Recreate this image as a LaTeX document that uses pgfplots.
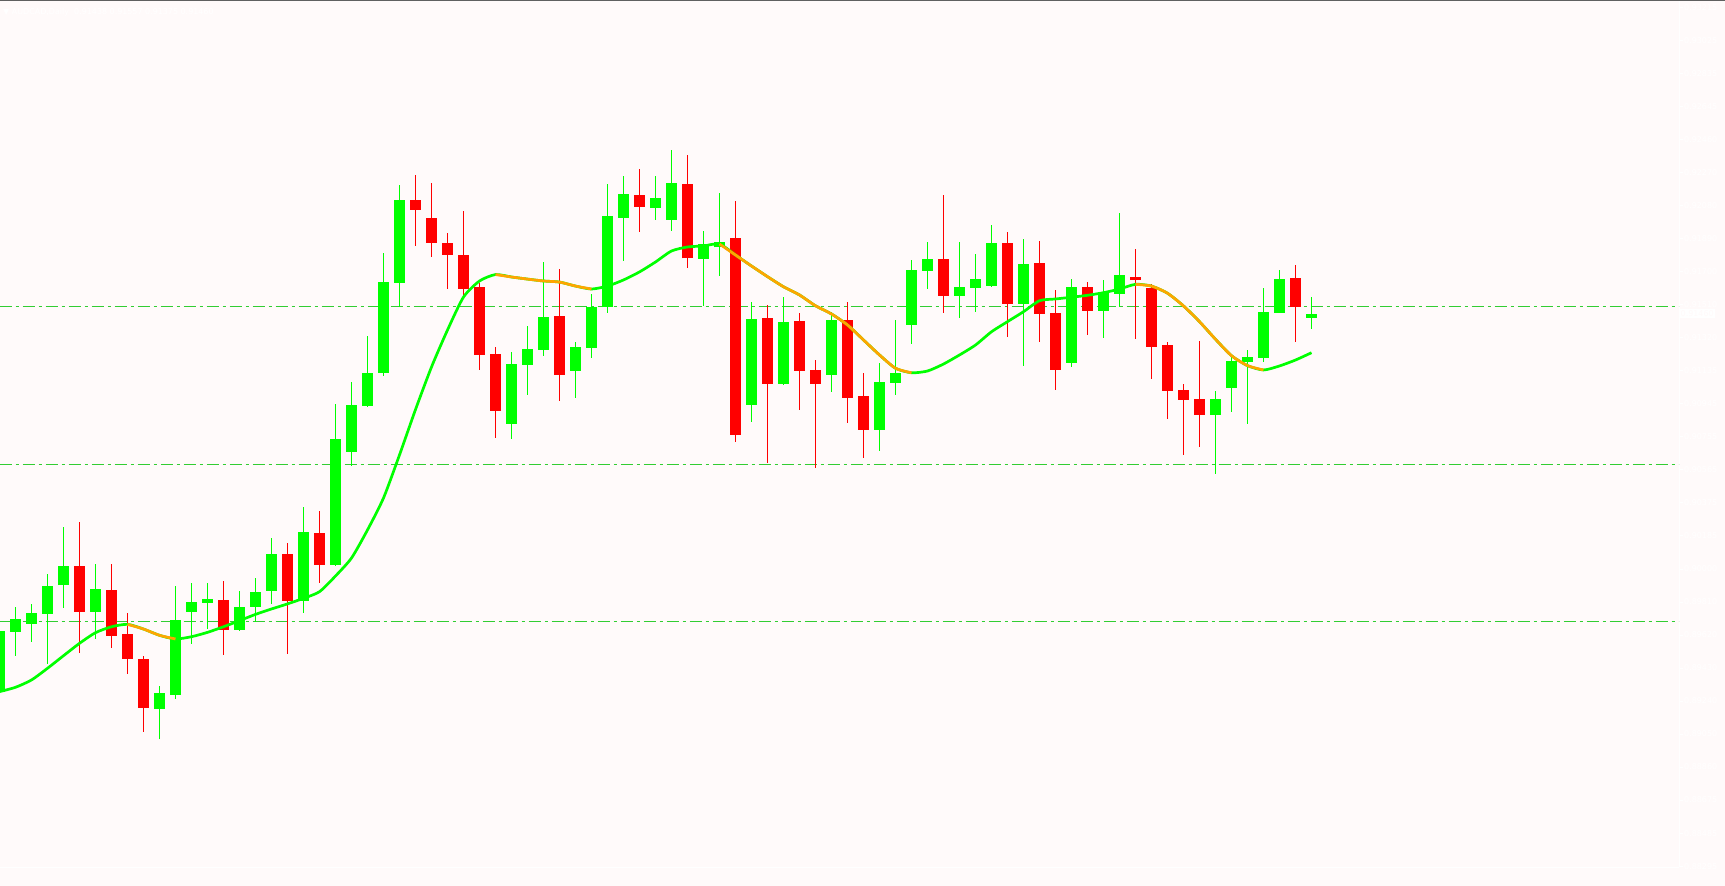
\documentclass[border=0pt]{standalone}
\usepackage{fontspec}
\setmainfont{DejaVu Sans}
\usepackage{pgfplots}
\usepackage{pgfplotstable}
\pgfplotsset{compat=1.18}
\definecolor{bg}{RGB}{255,250,250}
\definecolor{bull}{RGB}{0,255,0}
\definecolor{bear}{RGB}{255,0,0}
\definecolor{maup}{RGB}{0,255,0}
\definecolor{madn}{RGB}{255,165,0}
\definecolor{lvl}{RGB}{50,205,50}
\definecolor{topline}{RGB}{96,96,96}

% bullish candles: index, open, high, low, close
\pgfplotstableread{
k o h l c
0 0.89293 0.89660 0.89282 0.89643
1 0.89639 0.89780 0.89501 0.89712
2 0.89685 0.89798 0.89580 0.89746
3 0.89742 0.89970 0.89455 0.89901
4 0.89906 0.90241 0.89776 0.90015
6 0.89753 0.90027 0.89599 0.89883
10 0.89197 0.89327 0.89022 0.89287
11 0.89278 0.89901 0.89255 0.89706
12 0.89753 0.89918 0.89570 0.89809
13 0.89805 0.89918 0.89654 0.89826
15 0.89650 0.89872 0.89644 0.89780
16 0.89782 0.89947 0.89696 0.89866
17 0.89874 0.90176 0.89799 0.90084
19 0.89816 0.90354 0.89748 0.90210
21 0.90023 0.90944 0.90015 0.90743
22 0.90671 0.91068 0.90590 0.90938
23 0.90934 0.91334 0.90927 0.91122
24 0.91123 0.91810 0.91106 0.91643
25 0.91639 0.92199 0.91498 0.92113
32 0.90831 0.91242 0.90745 0.91173
33 0.91169 0.91391 0.90997 0.91259
34 0.91255 0.91758 0.91221 0.91443
36 0.91135 0.91299 0.90980 0.91271
37 0.91267 0.91575 0.91209 0.91500
38 0.91498 0.92205 0.91467 0.92022
39 0.92012 0.92251 0.91765 0.92148
41 0.92069 0.92251 0.92000 0.92125
42 0.92000 0.92400 0.91937 0.92211
44 0.91777 0.91937 0.91507 0.91861
45 0.91842 0.92153 0.91679 0.91871
47 0.90940 0.91529 0.90843 0.91431
49 0.91060 0.91557 0.91055 0.91414
52 0.91112 0.91471 0.91014 0.91425
55 0.90797 0.91181 0.90676 0.91072
56 0.91066 0.91425 0.90997 0.91123
57 0.91399 0.91771 0.91290 0.91714
58 0.91708 0.91874 0.91605 0.91777
60 0.91565 0.91874 0.91439 0.91616
61 0.91611 0.91806 0.91473 0.91662
62 0.91622 0.91972 0.91615 0.91869
64 0.91519 0.91890 0.91164 0.91746
67 0.91181 0.91660 0.91158 0.91615
69 0.91479 0.91655 0.91324 0.91588
70 0.91576 0.92039 0.91502 0.91683
76 0.90883 0.91020 0.90544 0.90974
77 0.91037 0.91215 0.90900 0.91192
78 0.91186 0.91255 0.90831 0.91215
79 0.91209 0.91611 0.91186 0.91471
80 0.91467 0.91714 0.91466 0.91660
82 0.91438 0.91557 0.91375 0.91460
}\bulltab

% bearish candles: index, open, high, low, close
\pgfplotstableread{
k o h l c
5 0.90015 0.90268 0.89518 0.89753
7 0.89878 0.90027 0.89547 0.89616
8 0.89626 0.89746 0.89398 0.89484
9 0.89482 0.89499 0.89066 0.89203
14 0.89820 0.89929 0.89507 0.89650
18 0.90084 0.90147 0.89513 0.89816
20 0.90205 0.90331 0.89920 0.90023
26 0.92113 0.92257 0.91851 0.92058
27 0.92010 0.92211 0.91788 0.91869
28 0.91867 0.91924 0.91605 0.91800
29 0.91798 0.92050 0.91559 0.91605
30 0.91615 0.91639 0.91141 0.91227
31 0.91231 0.91271 0.90751 0.90906
35 0.91450 0.91718 0.90963 0.91112
40 0.92142 0.92291 0.91932 0.92075
43 0.92205 0.92371 0.91725 0.91778
46 0.91896 0.92108 0.90728 0.90768
48 0.91437 0.91511 0.90607 0.91060
50 0.91420 0.91466 0.90911 0.91135
51 0.91141 0.91196 0.90579 0.91060
53 0.91425 0.91529 0.90837 0.90980
54 0.90992 0.91123 0.90636 0.90797
59 0.91777 0.92144 0.91467 0.91565
63 0.91869 0.91932 0.91330 0.91519
65 0.91752 0.91878 0.91301 0.91462
66 0.91466 0.91597 0.91026 0.91141
68 0.91615 0.91643 0.91341 0.91479
71 0.91672 0.91832 0.91318 0.91656
72 0.91611 0.91632 0.91089 0.91272
73 0.91284 0.91301 0.90860 0.91020
74 0.91026 0.91060 0.90653 0.90969
75 0.90974 0.91307 0.90699 0.90883
81 0.91666 0.91743 0.91301 0.91502
}\beartab

% moving average
\pgfplotstableread{
k m
0 0.89295
1 0.89320
2 0.89362
3 0.89429
4 0.89501
5 0.89572
6 0.89633
7 0.89667
8 0.89681
9 0.89654
10 0.89618
11 0.89597
12 0.89610
13 0.89635
14 0.89667
15 0.89702
16 0.89738
17 0.89769
18 0.89798
19 0.89830
20 0.89868
21 0.89958
22 0.90061
23 0.90222
24 0.90405
25 0.90652
26 0.90912
27 0.91156
28 0.91368
29 0.91557
30 0.91649
31 0.91686
32 0.91672
33 0.91660
34 0.91649
35 0.91643
36 0.91620
37 0.91603
38 0.91620
39 0.91655
40 0.91701
41 0.91758
42 0.91821
43 0.91844
44 0.91850
45 0.91861
46 0.91798
47 0.91735
48 0.91674
49 0.91616
50 0.91569
51 0.91507
52 0.91460
53 0.91397
54 0.91311
55 0.91225
56 0.91149
57 0.91123
58 0.91133
59 0.91173
60 0.91225
61 0.91282
62 0.91358
63 0.91416
64 0.91473
65 0.91536
66 0.91546
67 0.91556
68 0.91567
69 0.91582
70 0.91603
71 0.91630
72 0.91620
73 0.91579
74 0.91506
75 0.91416
76 0.91315
77 0.91221
78 0.91164
79 0.91139
80 0.91162
81 0.91196
82 0.91238
}\matab

\begin{document}
\begin{tikzpicture}
\useasboundingbox (0,0) rectangle (1725bp,886bp);
\fill[bg] (0,0) rectangle (1725bp,886bp);
\begin{axis}[
  at={(0,19bp)}, anchor=south west,
  scale only axis, width=1679bp, height=866bp,
  xmin=0.03125, xmax=104.96875,
  ymin=0.8828991, ymax=0.9325408,
  clip mode=individual,
  axis x line*=bottom, axis y line*=right,
  axis line style={white, line width=1bp, -},
  xtick=\empty,
  ytick={0.93215,0.930258,0.928365,0.926473,0.924581,0.922688,0.920796,0.918904,0.917012,0.915119,0.913227,0.911335,0.909442,0.90755,0.905658,0.903765,0.901873,0.899981,0.898088,0.896196,0.894304,0.892412,0.890519,0.888627,0.886735,0.884842,0.88295},
  yticklabels={0.93215,0.93025,0.92835,0.92645,0.92460,0.92270,0.92080,0.91890,0.91700,0.91510,0.91320,0.91135,0.90945,0.90755,0.90565,0.90375,0.90185,0.90000,0.89810,0.89620,0.89430,0.89240,0.89050,0.88860,0.88675,0.88485,0.88295},
  tick align=outside, major tick length=4bp,
  tick style={white, line width=1bp},
  yticklabel style={font=\fontsize{8}{9}\selectfont, text=white, anchor=west, inner sep=1bp},
  candle/.style={draw=none, no markers, forget plot,
    error bars/.cd, y dir=plus, y explicit, error mark=none},
]
% level lines
\addplot[lvl, line width=1bp, dash pattern=on 12bp off 4bp on 3bp off 4bp, no markers, forget plot] coordinates {(0,0.915) (105,0.915)};
\addplot[lvl, line width=1bp, dash pattern=on 12bp off 4bp on 3bp off 4bp, no markers, forget plot] coordinates {(0,0.906) (105,0.906)};
\addplot[lvl, line width=1bp, dash pattern=on 12bp off 4bp on 3bp off 4bp, no markers, forget plot] coordinates {(0,0.897) (105,0.897)};
% wicks
\addplot[candle, error bar style={draw=bull, line width=1bp, solid}]
  table[x=k, y=l, y error plus expr=\thisrow{h}-\thisrow{l}] {\bulltab};
\addplot[candle, error bar style={draw=bear, line width=1bp, solid}]
  table[x=k, y=l, y error plus expr=\thisrow{h}-\thisrow{l}] {\beartab};
% bodies
\addplot[candle, error bar style={draw=bull, line width=11bp, solid, line cap=butt}]
  table[x=k, y=o, y error plus expr=\thisrow{c}-\thisrow{o}] {\bulltab};
\addplot[candle, error bar style={draw=bear, line width=11bp, solid, line cap=butt}]
  table[x=k, y=c, y error plus expr=\thisrow{o}-\thisrow{c}] {\beartab};
% moving average
\addplot[maup, line width=2.7bp, no markers, line join=round, smooth, tension=0.4] table[x=k, y=m] {\matab};
\addplot[madn, line width=2.7bp, no markers, line join=round, smooth, tension=0.4, restrict x to domain=8:11] table[x=k, y=m] {\matab};
\addplot[madn, line width=2.7bp, no markers, line join=round, smooth, tension=0.4, restrict x to domain=31:37] table[x=k, y=m] {\matab};
\addplot[madn, line width=2.7bp, no markers, line join=round, smooth, tension=0.4, restrict x to domain=45:57] table[x=k, y=m] {\matab};
\addplot[madn, line width=2.7bp, no markers, line join=round, smooth, tension=0.4, restrict x to domain=71:79] table[x=k, y=m] {\matab};
% current price box
\node[fill=white, text=bg, anchor=west, inner sep=1.5bp, font=\fontsize{8}{9}\selectfont] at (axis cs:104.96875,0.91460) {0.91460};
\end{axis}
\draw[topline, line width=1bp] (0,885.5bp) -- (1725bp,885.5bp);
\node[anchor=west, text=white, inner sep=0pt, font=\fontsize{8}{9}\selectfont] at (3bp,874bp) {▼ AUDCAD,Daily\ \ 0.91438 0.91557 0.91375 0.91460};
\end{tikzpicture}
\end{document}
